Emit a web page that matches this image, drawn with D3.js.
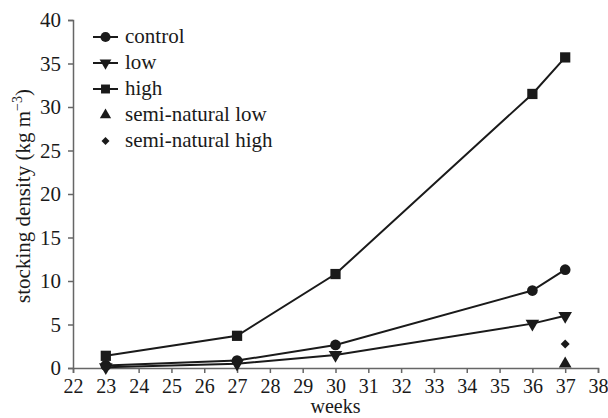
<!DOCTYPE html>
<html>
<head>
<meta charset="utf-8">
<script src="https://cdn.jsdelivr.net/npm/d3@7"></script>
</head>
<body style="margin:0">
<div id="chart"></div>
<script>
// weeks sampled
const weeks = [23, 27, 30, 36, 37];
const control = [0.3, 0.85, 2.65, 8.9, 11.3];
const low = [0.1, 0.5, 1.5, 5.1, 6.0];
const high = [1.4, 3.7, 10.8, 31.5, 35.7];
const semiLow = [{ week: 37, value: 0.25 }];
const semiHigh = [{ week: 37, value: 2.75 }];

const xTicks = d3.range(22, 39);
const yTicks = [0, 5, 10, 15, 20, 25, 30, 35, 40];

const width = 608, height = 418;
const margin = { top: 20, right: 10, bottom: 50, left: 73 };
const fontName = 'Liberation Serif';

const svg = d3.select('#chart')
  .append('svg')
  .attr('width', width)
  .attr('height', height)
  .attr('font-family', fontName);

const x = d3.scaleLinear().domain([22, 38]).range([margin.left, 598]);
const y = d3.scaleLinear().domain([0, 40]).range([368, margin.top]);

const axisColor = '#666';
const ink = '#1a1a1a';

// X axis
const gx = svg.append('g')
  .attr('transform', `translate(0,${y(0)})`)
  .call(d3.axisBottom(x).tickValues(xTicks).tickSize(5).tickPadding(6).tickFormat(d3.format('d')));
gx.attr('font-family', fontName).attr('font-size', 20);
gx.select('.domain').attr('stroke', axisColor).attr('stroke-width', 1.5);
gx.selectAll('.tick line').attr('stroke', axisColor).attr('stroke-width', 1.5);
gx.selectAll('text')
  .attr('font-family', fontName)
  .attr('font-size', 20)
  .attr('fill', ink);

// Y axis
const gy = svg.append('g')
  .attr('transform', `translate(${x(22)},0)`)
  .call(d3.axisLeft(y).tickValues(yTicks).tickSize(5).tickPadding(7));
gy.attr('font-family', fontName).attr('font-size', 21);
gy.select('.domain').attr('stroke', axisColor).attr('stroke-width', 1.5);
gy.selectAll('.tick line').attr('stroke', axisColor).attr('stroke-width', 1.5);
gy.selectAll('text')
  .attr('font-family', fontName)
  .attr('font-size', 21)
  .attr('fill', ink);

// axis titles
svg.append('text')
  .attr('x', (x(22) + x(38)) / 2)
  .attr('y', 413)
  .attr('text-anchor', 'middle')
  .attr('font-family', fontName)
  .attr('font-size', 20)
  .attr('fill', ink)
  .text('weeks');

const yl = svg.append('text')
  .attr('transform', `translate(30,${(y(0) + y(40)) / 2 + 2}) rotate(-90)`)
  .attr('text-anchor', 'middle')
  .attr('font-family', fontName)
  .attr('font-size', 21)
  .attr('fill', ink);
yl.append('tspan').text('stocking density (kg m');
yl.append('tspan').attr('font-size', 14).attr('dy', -8).text('\u22123');
yl.append('tspan').attr('dy', 8).text(')');

// series
const series = [
  { name: 'control', values: control, symbol: d3.symbolCircle, size: 90 },
  { name: 'low', values: low, symbol: d3.symbolTriangle, size: 80, rotate: 180 },
  { name: 'high', values: high, symbol: d3.symbolSquare, size: 105 }
];

const line = d3.line().x(d => x(d[0])).y(d => y(d[1]));

series.forEach(s => {
  const pts = weeks.map((w, i) => [w, s.values[i]]);
  svg.append('path')
    .attr('d', line(pts))
    .attr('fill', 'none')
    .attr('stroke', ink)
    .attr('stroke-width', 2);
  svg.selectAll(null)
    .data(pts)
    .enter()
    .append('path')
    .attr('d', d3.symbol().type(s.symbol).size(s.size))
    .attr('transform', d => `translate(${x(d[0])},${y(d[1])})` + (s.rotate ? ` rotate(${s.rotate})` : ''))
    .attr('fill', ink);
});

// semi-natural points
svg.selectAll(null)
  .data(semiLow)
  .enter()
  .append('path')
  .attr('d', d3.symbol().type(d3.symbolTriangle).size(70))
  .attr('transform', d => `translate(${x(d.week)},${y(d.value) - 2})`)
  .attr('fill', ink);

svg.selectAll(null)
  .data(semiHigh)
  .enter()
  .append('path')
  .attr('d', d3.symbol().type(d3.symbolSquare).size(40))
  .attr('transform', d => `translate(${x(d.week)},${y(d.value)}) rotate(45)`)
  .attr('fill', ink);

// legend
const legendItems = [
  { label: 'control', symbol: d3.symbolCircle, size: 80, line: true },
  { label: 'low', symbol: d3.symbolTriangle, size: 60, rotate: 180, line: true },
  { label: 'high', symbol: d3.symbolSquare, size: 80, line: true },
  { label: 'semi-natural low', symbol: d3.symbolTriangle, size: 55, line: false },
  { label: 'semi-natural high', symbol: d3.symbolSquare, size: 32, rotate: 45, line: false }
];

const legend = svg.append('g').attr('transform', 'translate(93,37)');
legendItems.forEach((d, i) => {
  const g = legend.append('g').attr('transform', `translate(0,${i * 26})`);
  if (d.line) {
    g.append('line')
      .attr('x1', 0).attr('x2', 25)
      .attr('stroke', ink).attr('stroke-width', 2);
  }
  g.append('path')
    .attr('d', d3.symbol().type(d.symbol).size(d.size))
    .attr('transform', `translate(12.5,0)` + (d.rotate ? ` rotate(${d.rotate})` : ''))
    .attr('fill', ink);
  g.append('text')
    .attr('x', 32)
    .attr('y', 6)
    .attr('font-family', fontName)
    .attr('font-size', 21)
    .attr('fill', ink)
    .text(d.label);
});
</script>
</body>
</html>
